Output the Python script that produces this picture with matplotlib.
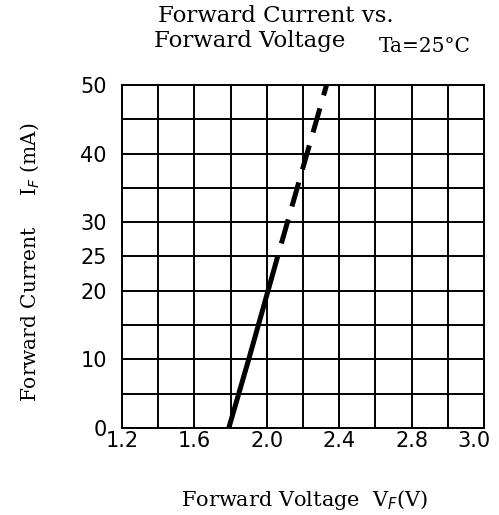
import matplotlib
matplotlib.use("Agg")
import matplotlib.pyplot as plt
import matplotlib.transforms as mtransforms
import numpy as np

# forward voltage (V) vs forward current (mA)
solid_v = [1.79, 1.90, 2.06]
solid_i = [0, 10, 25]
dash_v = [2.06, 2.33]
dash_i = [25, 50]

x_ticks = [1.2, 1.6, 2.0, 2.4, 2.8, 3.2]
x_labels = ["1.2", "1.6", "2.0", "2.4", "2.8", "3.0"]
y_ticks = [0, 10, 20, 25, 30, 40, 50]
y_labels = ["0", "10", "20", "25", "30", "40", "50"]

fig = plt.figure(figsize=(4.99, 5.15), dpi=100)
ax = fig.add_axes([0.2445, 0.169, 0.7255, 0.666])

ax.set_xlim(1.2, 3.2)
ax.set_ylim(0, 50)
# grid every 0.2 V / 5 mA
for gx in np.arange(1.2, 3.21, 0.2):
    ax.axvline(gx, color="black", lw=1.4, zorder=1)
for gy in np.arange(0, 51, 5):
    ax.axhline(gy, color="black", lw=1.4, zorder=1)
ax.set_xticks(x_ticks)
ax.set_xticklabels(x_labels)
ax.set_yticks(y_ticks)
ax.set_yticklabels(y_labels)
ax.tick_params(length=0, labelsize=15)
ax.tick_params(axis="y", pad=11)
ax.tick_params(axis="x", pad=2)
for s in ax.spines.values():
    s.set_linewidth(1.4)

# last label sits a bit left of the frame edge
last = ax.get_xticklabels()[-1]
last.set_transform(last.get_transform() + mtransforms.ScaledTranslation(-0.1, 0, fig.dpi_scale_trans))

ax.plot(solid_v, solid_i, color="black", lw=3.6, solid_capstyle="butt", zorder=3)
ax.plot(dash_v, dash_i, color="black", lw=3.6, linestyle=(5.0, (5.0, 2.7)),
        dash_capstyle="butt", zorder=3)

serif = "DejaVu Serif"
fig.text(0.553, 0.968, "Forward Current vs.", ha="center", va="center", fontsize=16.5, family=serif)
fig.text(0.50, 0.92, "Forward Voltage", ha="center", va="center", fontsize=16.5, family=serif)
fig.text(0.852, 0.909, "Ta=25°C", ha="center", va="center", fontsize=14.5, family=serif)
fig.text(0.06, 0.49, "Forward Current     I$_F$ (mA)", rotation=90, ha="center", va="center",
         fontsize=14.5, family=serif)
fig.text(0.61, 0.03, "Forward Voltage  V$_F$(V)", ha="center", va="center", fontsize=15, family=serif)

fig.savefig("out.png", dpi=100)
